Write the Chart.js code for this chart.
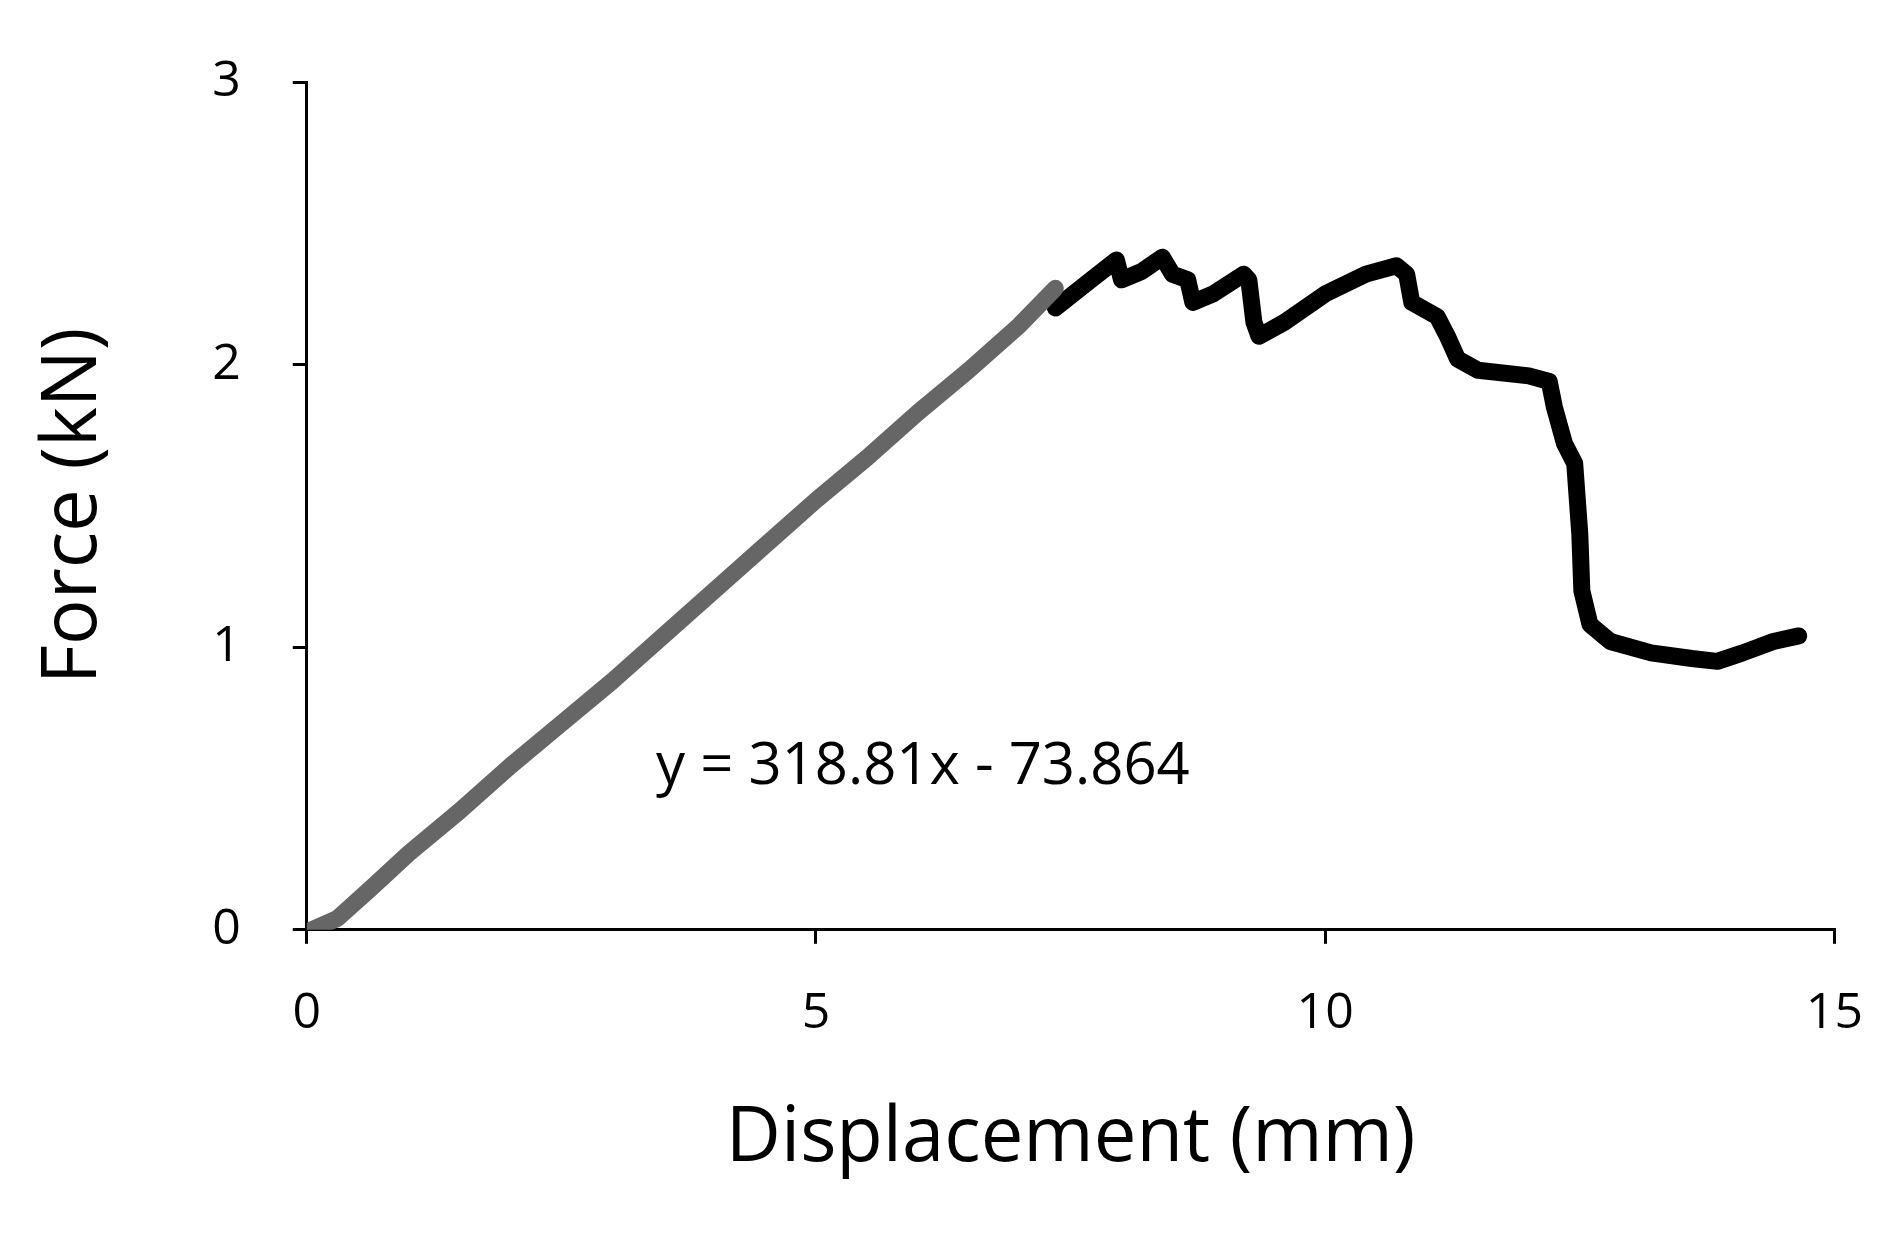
<!DOCTYPE html>
<html><head><meta charset="utf-8">
<script src="https://cdn.jsdelivr.net/npm/chart.js@4"></script>
<style>html,body{margin:0;background:#fff}#w{width:1903px;height:1234px}</style>
</head><body><div id="w"><canvas id="c"></canvas></div>
<script>
const linearX=[0.05,0.3,0.64,1.0,1.5,2.0,2.5,3.0,3.5,4.0,4.5,5.0,5.5,6.0,6.5,7.0,7.35];
const linearY=[0.0,0.04,0.15,0.27,0.42,0.58,0.73,0.88,1.04,1.2,1.36,1.52,1.67,1.83,1.98,2.14,2.27];
const postX=[7.35,7.7,7.95,8.0,8.2,8.4,8.5,8.65,8.7,8.9,9.2,9.25,9.3,9.35,9.6,10.0,10.4,10.7,10.8,10.85,11.1,11.2,11.3,11.5,12.0,12.2,12.25,12.35,12.45,12.5,12.52,12.6,12.8,13.2,13.6,13.85,14.1,14.4,14.65];
const postY=[2.2,2.3,2.37,2.3,2.33,2.38,2.32,2.3,2.22,2.25,2.32,2.3,2.15,2.1,2.15,2.25,2.32,2.35,2.32,2.22,2.17,2.1,2.02,1.98,1.96,1.94,1.85,1.72,1.65,1.4,1.2,1.08,1.02,0.98,0.96,0.95,0.98,1.02,1.04];
const xTicks=[0,5,10,15], yTicks=[0,1,2,3];
const eqText='y = 318.81x - 73.864';
const F='"Open Sans",sans-serif';
const pts=(xs,ys)=>xs.map((x,i)=>({x,y:ys[i]}));
const ann={id:'ann',afterDatasetsDraw(ch){const c=ch.ctx;c.save();c.font='58px '+F;c.fillStyle='#000';c.textAlign='center';c.textBaseline='middle';
c.fillText(eqText,ch.scales.x.getPixelForValue(6.05),ch.scales.y.getPixelForValue(0.575));c.restore();}};
new Chart(document.getElementById('c'),{type:'scatter',
data:{datasets:[
{data:pts(linearX,linearY),showLine:true,borderColor:'#666',borderWidth:17,pointRadius:0,borderCapStyle:'round',borderJoinStyle:'round'},
{data:pts(postX,postY),showLine:true,borderColor:'#000',borderWidth:17,pointRadius:0,borderCapStyle:'round',borderJoinStyle:'round'}]},
options:{responsive:true,maintainAspectRatio:false,animation:false,
layout:{padding:{left:25,right:45,top:40,bottom:45}},
plugins:{legend:{display:false},tooltip:{enabled:false}},
scales:{
x:{type:'linear',min:0,max:15,afterBuildTicks:a=>{a.ticks=xTicks.map(v=>({value:v}))},
border:{color:'#000',width:3},grid:{drawOnChartArea:false,color:'#000',lineWidth:3,tickLength:14},
ticks:{color:'#000',font:{family:F,size:50},padding:40},
title:{display:true,text:'Displacement (mm)',color:'#000',font:{family:F,size:76},padding:{top:10}}},
y:{type:'linear',min:0,max:3,afterBuildTicks:a=>{a.ticks=yTicks.map(v=>({value:v}))},
border:{color:'#000',width:3},grid:{drawOnChartArea:false,color:'#000',lineWidth:3,tickLength:14},
ticks:{color:'#000',font:{family:F,size:50},padding:52},
title:{display:true,text:'Force (kN)',color:'#000',font:{family:F,size:76},padding:{bottom:40}}}}},
plugins:[ann]});
</script></body></html>
